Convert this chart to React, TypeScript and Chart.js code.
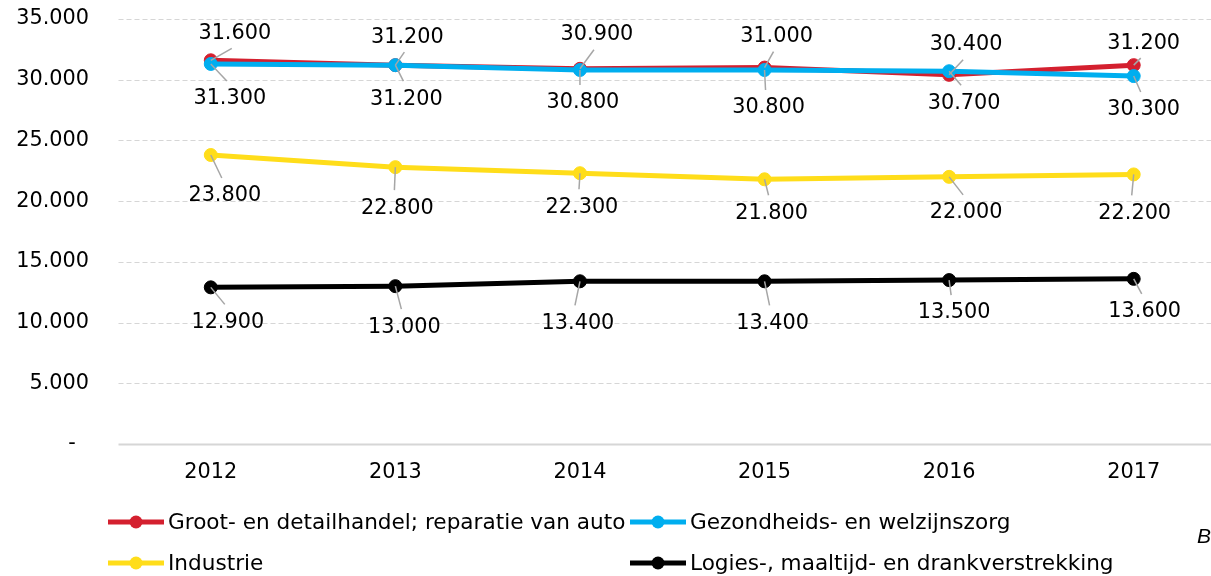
import React, { useEffect, useRef } from 'react';
import { Chart, registerables } from 'chart.js';

Chart.register(...registerables);

// ---- data ----
const years = ['2012', '2013', '2014', '2015', '2016', '2017'];
const grootEnDetailhandel = [31600, 31200, 30900, 31000, 30400, 31200];
const gezondheidszorg = [31300, 31200, 30800, 30800, 30700, 30300];
const industrie = [23800, 22800, 22300, 21800, 22000, 22200];
const logies = [12900, 13000, 13400, 13400, 13500, 13600];
const yTickValues = [0, 5000, 10000, 15000, 20000, 25000, 30000, 35000];
const seriesNames = [
  'Groot- en detailhandel; reparatie van auto',
  'Gezondheids- en welzijnszorg',
  'Industrie',
  'Logies-, maaltijd- en drankverstrekking',
];
const sourceText = 'Bron: CBS';

// ---- styles / layout ----
const colors = ['#D4202F', '#00AEEF', '#FFDD1A', '#000000'];
const FONT = '"DejaVu Sans", Verdana, sans-serif';
const NUM_SIZE = 20.8;
const LEGEND_SIZE = 21.6;
// label offset (dx, dy) from the point to the label centre, per series and point
const labelOffsets: number[][][] = [
  [[24, -27], [12, -28], [17, -34], [12, -31], [17, -30], [10, -22]],
  [[19, 35], [11, 34], [3, 33], [4, 38], [15, 32], [10, 34]],
  [[14, 41], [2, 41], [2, 34], [7, 34], [17, 36], [1, 39]],
  [[17, 35], [9, 41], [-2, 42], [8, 42], [5, 33], [11, 33]],
];
const legendSlots = [
  { x: 108, y: 522 },
  { x: 630, y: 522 },
  { x: 108, y: 563 },
  { x: 630, y: 563 },
];
const Y_LABEL_RIGHT = 89;

function fmt(v: number): string {
  if (v === 0) return '-  ';
  return String(Math.round(v)).replace(/\B(?=(\d{3})+(?!\d))/g, '.');
}

const gridPlugin = {
  id: 'customGrid',
  beforeDatasetsDraw(chart: any) {
    const { ctx, chartArea, scales } = chart;
    const y = scales.y;
    ctx.save();
    yTickValues.forEach((v) => {
      const py = Math.round(y.getPixelForValue(v)) + 0.5;
      ctx.beginPath();
      if (v === 0) {
        ctx.setLineDash([]);
        ctx.lineWidth = 2;
      } else {
        ctx.setLineDash([5, 3]);
        ctx.lineWidth = 1.2;
      }
      ctx.strokeStyle = '#d6d6d6';
      ctx.moveTo(chartArea.left, py);
      ctx.lineTo(chartArea.right, py);
      ctx.stroke();
    });
    ctx.setLineDash([]);
    ctx.fillStyle = '#000';
    ctx.font = `${NUM_SIZE}px ${FONT}`;
    ctx.textAlign = 'right';
    ctx.textBaseline = 'middle';
    yTickValues.forEach((v) => {
      ctx.fillText(fmt(v), Y_LABEL_RIGHT, y.getPixelForValue(v));
    });
    ctx.restore();
  },
};

const labelPlugin = {
  id: 'valueLabels',
  afterDatasetsDraw(chart: any) {
    const { ctx } = chart;
    ctx.save();
    const items: { x: number; y: number; cx: number; cy: number; text: string; above: boolean }[] = [];
    chart.data.datasets.forEach((ds: any, i: number) => {
      const meta = chart.getDatasetMeta(i);
      meta.data.forEach((el: any, j: number) => {
        const [dx, dy] = labelOffsets[i][j];
        items.push({ x: el.x, y: el.y, cx: el.x + dx, cy: el.y + dy, text: fmt(ds.data[j]), above: dy < 0 });
      });
    });
    ctx.strokeStyle = '#a6a6a6';
    ctx.lineWidth = 1.5;
    items.forEach((it) => {
      const ex = it.cx - 3;
      const ey = it.above ? it.cy + 15 : it.cy - 18;
      ctx.beginPath();
      ctx.moveTo(it.x, it.y);
      ctx.lineTo(ex, ey);
      ctx.stroke();
    });
    ctx.fillStyle = '#000';
    ctx.font = `${NUM_SIZE}px ${FONT}`;
    ctx.textAlign = 'center';
    ctx.textBaseline = 'middle';
    items.forEach((it) => {
      ctx.fillText(it.text, it.cx, it.cy);
    });
    ctx.restore();
  },
};

const legendPlugin = {
  id: 'customLegend',
  afterDraw(chart: any) {
    const { ctx } = chart;
    ctx.save();
    seriesNames.forEach((name, i) => {
      const s = legendSlots[i];
      ctx.strokeStyle = colors[i];
      ctx.fillStyle = colors[i];
      ctx.lineWidth = 5;
      ctx.beginPath();
      ctx.moveTo(s.x, s.y);
      ctx.lineTo(s.x + 56, s.y);
      ctx.stroke();
      ctx.beginPath();
      ctx.arc(s.x + 28, s.y, 6.5, 0, Math.PI * 2);
      ctx.fill();
      ctx.fillStyle = '#000';
      ctx.font = `${LEGEND_SIZE}px ${FONT}`;
      ctx.textAlign = 'left';
      ctx.textBaseline = 'middle';
      ctx.fillText(name, s.x + 60, s.y + 1);
    });
    ctx.font = `italic 21px "Liberation Sans", Arial, sans-serif`;
    ctx.fillStyle = '#000';
    ctx.textAlign = 'left';
    ctx.textBaseline = 'alphabetic';
    ctx.fillText(sourceText, 1197, 543);
    ctx.restore();
  },
};

export default function App() {
  const ref = useRef<HTMLCanvasElement | null>(null);
  useEffect(() => {
    if (!ref.current) return;
    document.body.style.overflow = 'hidden';
    document.documentElement.style.overflow = 'hidden';
    const seriesData = [grootEnDetailhandel, gezondheidszorg, industrie, logies];
    const drawOrder = [1, 0, 2, 3];
    const chart = new Chart(ref.current, {
      type: 'line',
      data: {
        labels: years,
        datasets: seriesData.map((d, i) => ({
          label: seriesNames[i],
          data: d,
          borderColor: colors[i],
          backgroundColor: colors[i],
          borderWidth: 5,
          pointRadius: 6.5,
          pointBorderWidth: 1,
          pointBackgroundColor: colors[i],
          pointBorderColor: colors[i],
          tension: 0,
          fill: false,
          order: drawOrder[i],
        })),
      },
      options: {
        responsive: false,
        animation: false,
        devicePixelRatio: 1,
        layout: { padding: { left: 0, right: 14, top: 19, bottom: 82 } },
        plugins: { legend: { display: false }, tooltip: { enabled: false } },
        scales: {
          x: {
            offset: true,
            grid: { display: false },
            border: { display: false },
            ticks: { padding: 8.5, color: '#000', font: { family: FONT, size: NUM_SIZE } },
            afterFit: (a: any) => {
              a.height = 50;
            },
          },
          y: {
            min: 0,
            max: 35000,
            grid: { display: false },
            border: { display: false },
            afterBuildTicks: (a: any) => {
              a.ticks = yTickValues.map((v) => ({ value: v }));
            },
            ticks: { display: false },
            afterFit: (a: any) => {
              a.width = 118.5;
            },
          },
        },
      } as any,
      plugins: [gridPlugin, labelPlugin, legendPlugin],
    });
    return () => chart.destroy();
  }, []);
  return (
    <div style={{ position: 'absolute', left: 0, top: 0, width: 1211, height: 576, overflow: 'hidden', background: '#fff' }}>
      <canvas ref={ref} width={1240} height={576} style={{ display: 'block' }} />
    </div>
  );
}
